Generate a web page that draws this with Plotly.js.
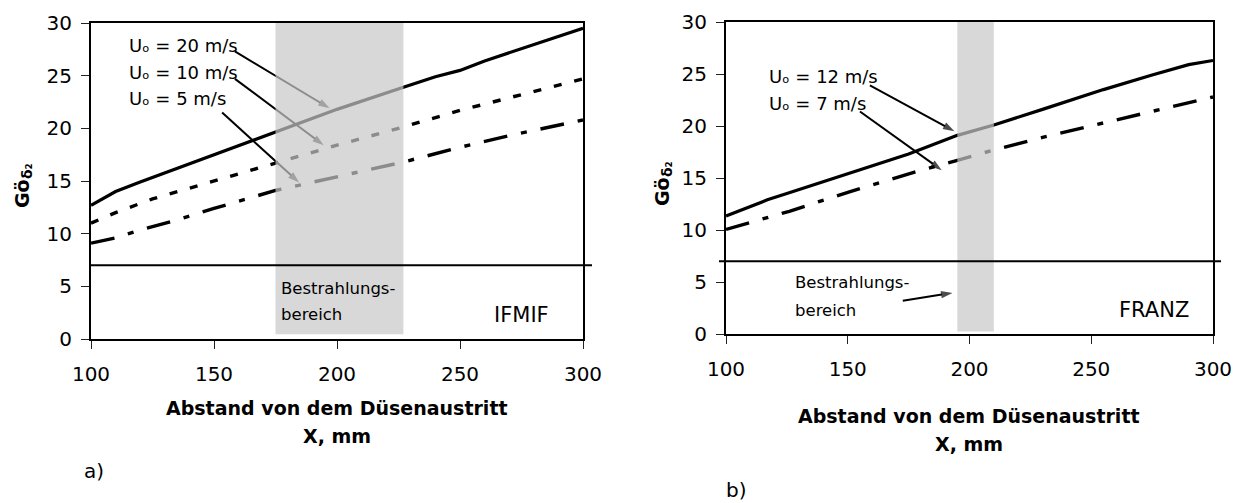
<!DOCTYPE html>
<html>
<head>
<meta charset="utf-8">
<script src="https://cdn.plot.ly/plotly-3.0.1.min.js"></script>
<style>html,body{margin:0;padding:0;background:#fff;}#plot{width:1239px;height:503px;}</style>
</head>
<body>
<div id="plot"></div>
<script>
// ---- Data ----
// a) IFMIF
var ifmifX20 = [100, 110, 120, 150, 175, 200, 227, 240, 250, 260, 300];
var ifmifY20 = [12.7, 14.0, 14.9, 17.5, 19.7, 21.8, 23.9, 24.9, 25.5, 26.4, 29.5];
var ifmifX10 = [100, 110, 125, 150, 175, 200, 225, 250, 275, 300];
var ifmifY10 = [11.0, 12.0, 13.3, 15.0, 16.7, 18.4, 20.0, 21.7, 23.2, 24.7];
var ifmifX5  = [100, 110, 120, 135, 150, 175, 200, 227, 250, 270, 300];
var ifmifY5  = [9.1, 9.6, 10.35, 11.3, 12.4, 14.1, 15.4, 16.8, 18.2, 19.3, 20.8];
// b) FRANZ
var franzX12 = [100, 117, 125, 150, 175, 195, 210, 230, 255, 275, 290, 300];
var franzY12 = [11.35, 12.9, 13.5, 15.4, 17.3, 19.1, 20.1, 21.6, 23.5, 24.9, 25.9, 26.3];
var franzX7  = [100, 126, 151, 178, 195, 210, 230, 252, 275, 300];
var franzY7  = [10.05, 11.8, 13.7, 15.6, 16.7, 17.7, 18.9, 20.1, 21.4, 22.8];

var labels20 = "Uₒ = 20 m/s", labels10 = "Uₒ = 10 m/s", labels5 = "Uₒ = 5 m/s";
var labels12 = "Uₒ = 12 m/s", labels7 = "Uₒ = 7 m/s";
var bandA = [175, 227];
var bandB = [195, 210];
var xTicks = [100, 150, 200, 250, 300];
var yTicks = [0, 5, 10, 15, 20, 25, 30];
var thresholdY = 7;

// ---- Figure ----
var FONT = "DejaVu Sans, Verdana, sans-serif";
var W = 1239, H = 503;
function px(x){return x / W;}
function py(y){return 1 - y / H;}

var traces = [
  {x: ifmifX20, y: ifmifY20, mode: "lines", line: {color: "#000", width: 3.2}, xaxis: "x", yaxis: "y"},
  {x: ifmifX10, y: ifmifY10, mode: "lines", line: {color: "#000", width: 3.4, dash: "8px,13px"}, xaxis: "x", yaxis: "y"},
  {x: ifmifX5,  y: ifmifY5,  mode: "lines", line: {color: "#000", width: 3.4, dash: "24px,14px,6px,14px"}, xaxis: "x", yaxis: "y"},
  {x: franzX12, y: franzY12, mode: "lines", line: {color: "#000", width: 3.2}, xaxis: "x2", yaxis: "y2"},
  {x: franzX7,  y: franzY7,  mode: "lines", line: {color: "#000", width: 3.4, dash: "24px,14px,6px,14px"}, xaxis: "x2", yaxis: "y2"}
];

// pointer arrows (tail -> head), drawn as line traces with an arrow marker at the head
function arrowTrace(xa, ya, x0, y0, x1, y1){
  return {x: [x0, x1], y: [y0, y1], mode: "lines+markers", xaxis: xa, yaxis: ya, hoverinfo: "skip",
    line: {color: "#000", width: 2},
    marker: {symbol: "arrow", size: [0, 12], angleref: "previous", color: "#000", line: {width: 0}}};
}
traces.push(arrowTrace("x", "y", 158.5, 27.3, 197.0, 21.9));
traces.push(arrowTrace("x", "y", 158.5, 24.7, 194.6, 18.4));
traces.push(arrowTrace("x", "y", 153.3, 21.5, 184.6, 14.85));
traces.push(arrowTrace("x2", "y2", 159.1, 23.9, 193.8, 19.5));
traces.push(arrowTrace("x2", "y2", 155, 21.4, 188.6, 15.75));
traces.push(arrowTrace("x2", "y2", 172.6, 3.2, 193.0, 3.95));

function xax(dom){
  return {domain: dom, range: [100, 300], tickvals: xTicks, ticks: "outside", ticklen: 8, tickwidth: 1, tickcolor: "#222",
    showline: true, mirror: true, linecolor: "#000", linewidth: 2, showgrid: false, zeroline: false,
    tickfont: {family: FONT, size: 20, color: "#000"}, ticklabelstandoff: 8, fixedrange: true};
}
function yax(dom){
  return {domain: dom, range: [0, 30], tickvals: yTicks, ticks: "outside", ticklen: 8, tickwidth: 1, tickcolor: "#222",
    showline: true, mirror: true, linecolor: "#000", linewidth: 2, showgrid: false, zeroline: false,
    tickfont: {family: FONT, size: 20, color: "#000"}, ticklabelstandoff: 5, fixedrange: true};
}

var bandFill = "rgba(200,200,200,0.7)";
var shapes = [
  {type: "rect", xref: "x", yref: "y", x0: bandA[0], x1: bandA[1], y0: 0.45, y1: 30, fillcolor: bandFill, line: {width: 0}, layer: "above"},
  {type: "rect", xref: "x2", yref: "y2", x0: bandB[0], x1: bandB[1], y0: 0.25, y1: 30, fillcolor: bandFill, line: {width: 0}, layer: "above"},
  {type: "line", xref: "paper", yref: "y", x0: px(91), x1: px(592), y0: thresholdY, y1: thresholdY, line: {color: "#000", width: 2}},
  {type: "line", xref: "paper", yref: "y2", x0: px(719), x1: px(1221), y0: thresholdY, y1: thresholdY, line: {color: "#000", width: 2}}
];

function txt(xref, yref, x, y, text, xanchor, size, extra){
  var a = {xref: xref, yref: yref, x: x, y: y, text: text, showarrow: false, xanchor: xanchor, yanchor: "middle",
    font: {family: FONT, size: size, color: "#000"}, align: "left"};
  for (var k in extra) a[k] = extra[k];
  return a;
}

var annotations = [
  txt("x", "y", 114.5, 27.9, labels20, "left", 18),
  txt("x", "y", 114.5, 25.3, labels10, "left", 18),
  txt("x", "y", 114.5, 22.8, labels5, "left", 18),
  txt("x", "y", 176.5, 4.75, "Bestrahlungs-", "left", 16.5),
  txt("x", "y", 176.5, 2.3, "bereich", "left", 16.5),
  txt("x", "y", 287, 2.3, "IFMIF", "right", 21),

  txt("x2", "y2", 116.7, 24.8, labels12, "left", 18),
  txt("x2", "y2", 116.7, 22.2, labels7, "left", 18),
  txt("x2", "y2", 127.5, 5.0, "Bestrahlungs-", "left", 16.5),
  txt("x2", "y2", 127.5, 2.3, "bereich", "left", 16.5),
  txt("x2", "y2", 291, 2.3, "FRANZ", "right", 21),

  txt("paper", "paper", px(337), py(408), "<b>Abstand von dem Düsenaustritt</b>", "center", 19),
  txt("paper", "paper", px(337), py(436), "<b>X, mm</b>", "center", 19),
  txt("paper", "paper", px(969.5), py(416), "<b>Abstand von dem Düsenaustritt</b>", "center", 19),
  txt("paper", "paper", px(969.5), py(444), "<b>X, mm</b>", "center", 19),
  txt("paper", "paper", px(82), py(471), "a)", "left", 20),
  txt("paper", "paper", px(724), py(490), "b)", "left", 20),
  txt("paper", "paper", px(22), py(194), "<b>Gö</b>", "center", 19, {textangle: -90}),
  txt("paper", "paper", px(27), py(171), "<b>δ₂</b>", "center", 14, {textangle: -90}),
  txt("paper", "paper", px(662), py(192), "<b>Gö</b>", "center", 19, {textangle: -90}),
  txt("paper", "paper", px(667), py(169), "<b>δ₂</b>", "center", 14, {textangle: -90})
];

var layout = {
  width: W, height: H, margin: {l: 0, r: 0, t: 0, b: 0},
  paper_bgcolor: "#fff", plot_bgcolor: "#fff", showlegend: false,
  xaxis: xax([px(91), px(583)]), yaxis: yax([py(339), py(23)]),
  xaxis2: xax([px(726), px(1213)]), yaxis2: yax([py(334), py(22)]),
  shapes: shapes, annotations: annotations, font: {family: FONT}
};
layout.yaxis.anchor = "x"; layout.xaxis.anchor = "y";
layout.yaxis2.anchor = "x2"; layout.xaxis2.anchor = "y2";

Plotly.newPlot("plot", traces, layout, {staticPlot: true, displayModeBar: false});
</script>
</body>
</html>
